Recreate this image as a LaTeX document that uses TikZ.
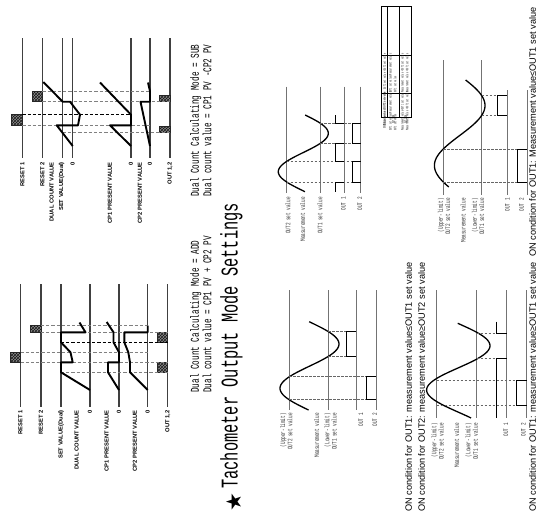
\documentclass[tikz,border=0pt]{standalone}
\usepackage{fontspec}
\setmainfont{Liberation Sans}
\newfontfamily\narrowmono[FakeStretch=0.64]{Liberation Mono}
\newfontfamily\cellmono[FakeStretch=0.55]{Liberation Mono}
\newfontfamily\cellsans[FakeStretch=0.75]{Liberation Sans}
\newfontfamily\starfont{DejaVu Sans}
\usetikzlibrary{patterns}

\tikzset{
  lvl/.style={line width=1.1pt, black!75},
  trace/.style={line width=1.9pt, black, line join=round},
  guide/.style={line width=0.9pt, black!50, dash pattern=on 3.2pt off 2pt},
  guidek/.style={guide, black},
  pulse/.style={draw=black!85, line width=0.5pt, preaction={fill=black!45}, pattern=crosshatch, pattern color=black!90},
  vtext/.style={rotate=90, inner sep=0pt},
  tlab/.style={vtext, anchor=east, font=\bfseries\fontsize{5.8}{6}\selectfont},
  body/.style={vtext, anchor=north west, font=\narrowmono\fontsize{12}{12.5}\selectfont, align=left},
  tline/.style={line width=0.8pt, black!55},
  sine/.style={line width=1.3pt, black},
  tdash/.style={line width=0.8pt, black!60, dash pattern=on 2.5pt off 1.5pt},
  osig/.style={line width=0.9pt, black},
  mlab/.style={vtext, anchor=east, font=\narrowmono\fontsize{6.8}{6.2}\selectfont, align=right, black!80},
  cond/.style={vtext, anchor=north west, font=\fontsize{9.2}{13}\selectfont, align=left},
  cell/.style={vtext, font=\cellmono\fontsize{3.6}{4.8}\selectfont, align=left, black!85},
  grid/.style={line width=0.8pt, black}
}

\begin{document}
\begin{tikzpicture}[x=1pt, y=-1pt]
  \useasboundingbox (0,0) rectangle (541,517);

  % SUB timing chart
  \foreach \lx in {22.3,42.3,62.7,72.7,131,150,170}
    \draw[lvl] (\lx,38) -- (\lx,158);
  \draw[pulse] (11.7,114.7) rectangle (22.3,125.3);
  \draw[pulse] (32,91.3) rectangle (42.3,101.7);
  \draw[pulse] (159.3,95) rectangle (170,101.7);
  \draw[pulse] (159.3,126) rectangle (170,132.7);
  \draw[guide] (42.3,91.3) -- (150,91.3);
  \draw[guide] (42.3,101.7) -- (170,101.7);
  \draw[guidek] (22.3,114.7) -- (131,114.7);
  \draw[guide] (22.3,125.3) -- (150,125.3);
  \draw[guide] (62.7,132.7) -- (170,132.7);
  \draw[trace] (72.7,146) -- (56.7,125.3) -- (78,125.3) -- (80,114.7) -- (70,101.7) -- (62.7,101.7) -- (43.3,82);
  \draw[trace] (131,146) -- (110,125.3) -- (131,125.3) -- (131,114.7) -- (100,82.5);
  \draw[trace] (150,146) -- (140.5,101.7) -- (150,101.7) -- (150,91.3) -- (148,82.5);
  \node[tlab] (sR1) at (22.3,162) {RESET 1};
  \node[tlab] (sR2) at (42.3,162) {RESET 2};
  \node[tlab] (sDual) at (51.7,162) {DUAL COUNT VALUE};
  \node[tlab] (sSet) at (61.7,162) {SET VALUE(Dual)};
  \node[tlab] (sZero) at (72.7,162) {0};
  \node[tlab] (sCP1) at (110,162) {CP1 PRESENT VALUE};
  \node[tlab] (sZero1) at (131,162) {0};
  \node[tlab] (sCP2) at (140,162) {CP2 PRESENT VALUE};
  \node[tlab] (sZero2) at (150,162) {0};
  \node[tlab] (sOut) at (170,162) {OUT 1,2};

  % ADD timing chart
  \foreach \lx in {20.5,41,61,90,119,147.7,167.7}
    \draw[lvl] (\lx,284) -- (\lx,406.5);
  \draw[pulse] (10.7,352.3) rectangle (20.5,362.3);
  \draw[pulse] (30.7,325.7) rectangle (41,332.3);
  \draw[pulse] (157.7,332.3) rectangle (167.7,342.3);
  \draw[pulse] (157.7,362.3) rectangle (167.7,372.3);
  \draw[guide] (41,325.7) -- (147.7,325.7);
  \draw[guide] (41,332.3) -- (167.7,332.3);
  \draw[guidek] (61,342.3) -- (167.7,342.3);
  \draw[guide] (20.5,352.3) -- (147.7,352.3);
  \draw[guide] (20.5,362.3) -- (167.7,362.3);
  \draw[guide] (61,372.3) -- (167.7,372.3);
  \draw[trace] (90,390) -- (61,372.3) -- (61,362.3) -- (72.7,362.3) -- (70.5,352.3) -- (61,342.3) -- (61,332.3) -- (85.5,332.3) -- (79.5,322.5);
  \draw[trace] (119,390) -- (108,372.3) -- (108,362.3) -- (119,362.3) -- (119,352.3) -- (113.5,342.3) -- (113.5,332.3) -- (106.7,322);
  \draw[trace] (147.7,390) -- (130,372.3) -- (130,362.3) -- (128.3,352.3) -- (124.3,342.3) -- (124.3,332.3) -- (147.7,332.3) -- (147.7,325.7);
  \node[tlab] (aR1) at (20.5,410) {RESET 1};
  \node[tlab] (aR2) at (41,410) {RESET 2};
  \node[tlab] (aSet) at (61,410) {SET VALUE(Dual)};
  \node[tlab] (aDual) at (76.7,410) {DUAL COUNT VALUE};
  \node[tlab] (aZero) at (90,410) {0};
  \node[tlab] (aCP1) at (106.7,410) {CP1 PRESENT VALUE};
  \node[tlab] (aZero1) at (119,410) {0};
  \node[tlab] (aCP2) at (135,410) {CP2 PRESENT VALUE};
  \node[tlab] (aZero2) at (147.7,410) {0};
  \node[tlab] (aOut) at (167.7,410) {OUT 1,2};

  % mode notes and title
  \node[body] (addNote) at (190,393) {Dual Count Calculating Mode = ADD\\Dual count value = CP1 PV + CP2 PV};
  \node[body] (subNote) at (190,197) {Dual Count Calculating Mode = SUB\\Dual count value = CP1 PV -CP2 PV};
  \node[vtext, anchor=center, font=\starfont\fontsize{21}{21}\selectfont] (star) at (234,502) {★};
  \node[vtext, anchor=mid west, font=\narrowmono\fontsize{24}{24}\selectfont] (title) at (235,489) {Tachometer Output Mode Settings};

  % tachometer chart: OUT1 between limits
  \foreach \lx in {286.7,320,344,360.5}
    \draw[tline] (\lx,86.7) -- (\lx,193);
  \draw[sine] plot[domain=115:191.7, samples=70] ({303.3-25*cos(4.6875*(\x-171.7))}, \x);
  \draw[tdash] (286.7,161.4) -- (360.5,161.4);
  \draw[tdash] (286.7,182) -- (360.5,182);
  \draw[tdash] (320,123) -- (360.5,123);
  \draw[tdash] (320,143.6) -- (360.5,143.6);
  \draw[osig] (335.7,115) -- (335.7,123) -- (344,123);
  \draw[osig] (344,143.6) -- (335.7,143.6) -- (335.7,161.4) -- (344,161.4);
  \draw[osig] (344,182) -- (335.7,182) -- (335.7,191.7);
  \draw[osig] (360.5,123) -- (352,123) -- (352,143.6) -- (360.5,143.6);
  \draw[osig] (360.5,161.4) -- (352,161.4) -- (352,182) -- (360.5,182);
  \node[mlab] (aHi) at (288,197) {OUT2 set value};
  \node[mlab] (aMv) at (302.7,197) {Measurement value};
  \node[mlab] (aLo) at (320,197) {OUT1 set value};
  \node[mlab] (aO1) at (343.3,197) {OUT 1};
  \node[mlab] (aO2) at (360,197) {OUT 2};

  % condition table
  \draw[grid] (381.5,6) rectangle (411.7,117);
  \draw[grid] (387.5,6) -- (387.5,117);
  \draw[grid] (399.5,6) -- (399.5,117);
  \draw[grid] (381.5,93) -- (411.7,93);
  \draw[grid] (381.5,55) -- (411.7,55);
  \node[cell, anchor=east] (tC) at (384.5,115) {Condition};
  \node[cell, anchor=east, font=\cellsans\bfseries\fontsize{3.3}{4.8}\selectfont] (tH1) at (384.5,91.5) {OUT1 set value≤OUT2 set value};
  \node[cell, anchor=east] (tH2) at (384.5,53.5) {OUT1 set value >OUT2 set value};
  \node[cell, anchor=east] (tR1) at (393.5,115) {OUT1 ON};
  \node[cell, anchor=north east] (tR1a) at (388.8,91.5) {OUT1 set value≤Measurement value≤\\OUT2 set value};
  \node[cell, anchor=north east] (tR1b) at (388.8,53.5) {OUT2 set value≤Measurement value≤\\OUT1 set value};
  \node[cell, anchor=east] (tR2) at (405.6,115) {OUT2 ON};
  \node[cell, anchor=north east] (tR2a) at (400.8,91.5) {Measurement value<OUT1 set value\\Measurement value >OUT2 set value};
  \node[cell, anchor=north east] (tR2b) at (400.8,53.5) {Measurement value <OUT2 set value\\Measurement value >OUT1 set value};

  % tachometer chart: high/low limits
  \foreach \lx in {289.3,328.3,356,376}
    \draw[tline] (\lx,290) -- (\lx,410);
  \draw[sine] plot[domain=321.7:410, samples=70] ({309.5-29.5*cos(4.0632*(\x-388.3))}, \x);
  \draw[tdash] (289.3,376.8) -- (376,376.8);
  \draw[tdash] (289.3,399.8) -- (376,399.8);
  \draw[tdash] (328.3,331.6) -- (356,331.6);
  \draw[tdash] (328.3,356.4) -- (356,356.4);
  \draw[osig] (356,331.6) -- (346.7,331.6) -- (346.7,356.4) -- (356,356.4);
  \draw[osig] (376,376.8) -- (366.7,376.8) -- (366.7,399.8) -- (376,399.8);
  \node[mlab] (bHi) at (286.3,413) {(Upper-limit)\\OUT2 set value};
  \node[mlab] (bMv) at (316.7,413) {Measurement value};
  \node[mlab] (bLo) at (330.5,413) {(Lower-limit)\\OUT1 set value};
  \node[mlab] (bO1) at (361,413) {OUT 1};
  \node[mlab] (bO2) at (375,413) {OUT 2};
  \node[cond] (bCond) at (405,512) {ON condition for OUT1: measurement value≤OUT1 set value\\ON condition for OUT2: measurement value≥OUT2 set value};

  % tachometer chart: OUT1 above lower limit
  \foreach \lx in {436.7,476.7,506.7,526.7}
    \draw[tline] (\lx,290) -- (\lx,418);
  \draw[sine] plot[domain=323.3:418, samples=70] ({458.3+31.7*cos(4.0632*(\x-345.7))}, \x);
  \draw[tdash] (476.7,333.3) -- (506.7,333.3);
  \draw[tdash] (476.7,358.3) -- (506.7,358.3);
  \draw[tdash] (436.7,380) -- (526.7,380);
  \draw[tdash] (436.7,405) -- (526.7,405);
  \draw[osig] (496.7,321.7) -- (496.7,333.3) -- (506.7,333.3);
  \draw[osig] (506.7,358.3) -- (496.7,358.3) -- (496.7,418);
  \draw[osig] (526.7,380) -- (516.7,380) -- (516.7,405) -- (526.7,405);
  \node[mlab] (cHi) at (437.5,423) {(Upper-limit)\\OUT2 set value};
  \node[mlab] (cMv) at (456.7,423) {Measurement value};
  \node[mlab] (cLo) at (471.7,423) {(Lower-limit)\\OUT1 set value};
  \node[mlab] (cO1) at (506,423) {OUT 1};
  \node[mlab] (cO2) at (523.5,423) {OUT 2};
  \node[cond] (cCond) at (529,512) {ON condition for OUT1: measurement value≥OUT1 set value};

  % tachometer chart: OUT1 below lower limit
  \foreach \lx in {443.3,481.7}
    \draw[tline] (\lx,60) -- (\lx,195);
  \foreach \lx in {507,527}
    \draw[tline] (\lx,90) -- (\lx,195);
  \draw[sine] plot[domain=80:187, samples=70] ({459.7-25.3*cos(3*(\x-165.5))}, \x);
  \draw[tdash] (443.3,149) -- (527,149);
  \draw[tdash] (443.3,182) -- (527,182);
  \draw[tdash] (481.7,95.6) -- (507,95.6);
  \draw[tdash] (481.7,115.4) -- (507,115.4);
  \draw[osig] (507,95.6) -- (497,95.6) -- (497,115.4) -- (507,115.4);
  \draw[osig] (527,149) -- (517,149) -- (517,182) -- (527,182);
  \node[mlab] (dHi) at (444,198) {(Upper-limit)\\OUT2 set value};
  \node[mlab] (dMv) at (463.3,198) {Measurement value};
  \node[mlab] (dLo) at (478,198) {(Lower-limit)\\OUT1 set value};
  \node[mlab] (dO1) at (507.3,198) {OUT 1};
  \node[mlab] (dO2) at (521.7,198) {OUT 2};
  \node[cond] (dCond) at (529,257) {ON condition for OUT1: Measurement value≤OUT1 set value};
\end{tikzpicture}
\end{document}
